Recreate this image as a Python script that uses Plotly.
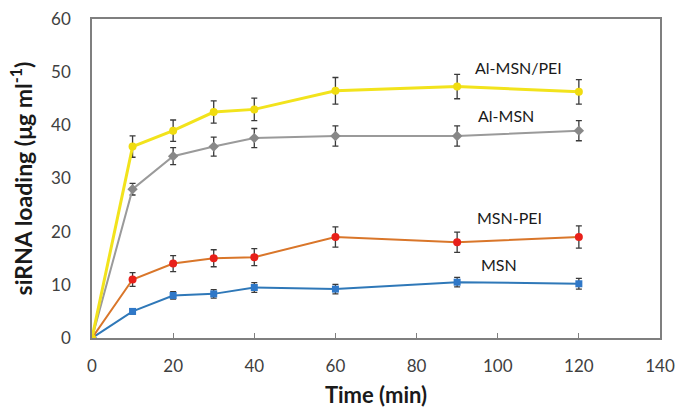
import plotly.graph_objects as go

time_min = [0, 10, 20, 30, 40, 60, 90, 120]

al_msn_pei = [0, 36, 39, 42.5, 43, 46.5, 47.3, 46.3]
al_msn_pei_err = [0, 2, 2, 2.1, 2.1, 2.5, 2.3, 2.3]

al_msn = [0, 28, 34.2, 36, 37.6, 38, 38, 39]
al_msn_err = [0, 1.1, 1.6, 1.8, 1.8, 1.9, 1.9, 1.9]

msn_pei = [0, 11, 14, 15, 15.2, 19, 18, 19]
msn_pei_err = [0, 1.3, 1.5, 1.6, 1.6, 1.9, 1.9, 2.1]

msn = [0, 5, 8, 8.3, 9.5, 9.2, 10.5, 10.2]
msn_err = [0, 0.5, 0.7, 0.8, 0.9, 0.9, 0.9, 1.0]

labels = ["Al-MSN/PEI", "Al-MSN", "MSN-PEI", "MSN"]
label_x = [105.2, 102, 102.8, 100.3]
label_y = [50.8, 41.9, 22.6, 13.9]

ERR_COLOR = "#3a3a3a"
FONT = "Lato, Open Sans, sans-serif"

fig = go.Figure()

def add_series(y, err, line_color, line_width, marker_color, symbol, size):
    fig.add_trace(go.Scatter(
        x=time_min, y=y, mode="lines+markers",
        line=dict(color=line_color, width=line_width),
        marker=dict(color=marker_color, symbol=symbol, size=size),
        error_y=dict(type="data", array=err, visible=True,
                     color=ERR_COLOR, thickness=1.3, width=3),
        showlegend=False,
    ))

add_series(msn, msn_err, "#2f78b8", 2, "#2f78c8", "square", 7)
add_series(msn_pei, msn_pei_err, "#d9762a", 2, "#e8201a", "circle", 8)
add_series(al_msn, al_msn_err, "#9a9a9a", 2, "#888888", "diamond", 8)
add_series(al_msn_pei, al_msn_pei_err, "#f2e31c", 3, "#f0dc10", "circle", 8)

for t, xx, yy in zip(labels, label_x, label_y):
    fig.add_annotation(x=xx, y=yy, text=t, showarrow=False,
                       font=dict(family=FONT, size=16, color="#1a1a1a"))

fig.update_layout(
    width=678, height=408,
    margin=dict(l=92, r=18, t=19, b=70),
    paper_bgcolor="white", plot_bgcolor="white",
    font=dict(family=FONT, size=17, color="#404040"),
)
fig.update_xaxes(
    range=[0, 140], tickvals=[0, 20, 40, 60, 80, 100, 120, 140],
    showgrid=False, zeroline=False,
    showline=True, linecolor="#7f7f7f", linewidth=1.5, mirror=True,
    ticks="inside", ticklen=5, tickcolor="#7f7f7f",
    ticklabelstandoff=12, automargin=False, ticklabeloverflow="allow",
    title=dict(text="<b>Time (min)</b>", font=dict(size=22, color="#1a1a1a"), standoff=14),
)
fig.update_yaxes(
    range=[0, 60], tickvals=[0, 10, 20, 30, 40, 50, 60],
    showgrid=False, zeroline=False,
    showline=True, linecolor="#7f7f7f", linewidth=1.5, mirror=True,
    ticks="", ticklabelstandoff=16, automargin=False, ticklabeloverflow="allow",
    title=dict(text="<b>siRNA loading (μg ml<sup>-1</sup>)</b>",
               font=dict(size=23, color="#1a1a1a"), standoff=12),
)

# remove the default page margin so the figure fills the window exactly
fig.write_html(
    "out.html",
    config={"displayModeBar": False},
    post_script="document.body.style.margin='0';document.body.style.overflow='hidden';",
)
